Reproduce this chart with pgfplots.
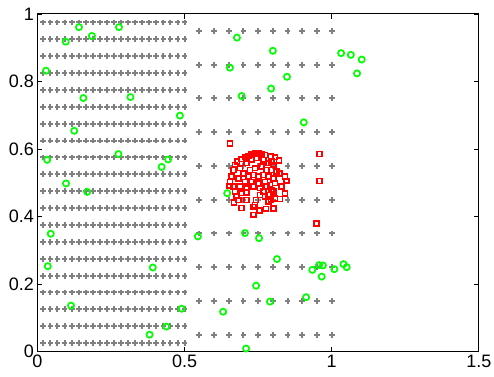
\documentclass[border=0pt]{standalone}
\usepackage{pgfplots}
\pgfplotsset{compat=1.18}
\usepackage{fontspec}
\setmainfont{Liberation Sans}
\definecolor{gridgray}{RGB}{128,128,128}
\begin{document}
\begin{tikzpicture}
\begin{axis}[
 scale only axis, width=441.5pt, height=337.7pt,
 xmin=0,xmax=1.5,ymin=0,ymax=1,
 xtick={0,0.5,1,1.5}, ytick={0,0.2,0.4,0.6,0.8,1},
 xticklabels={0,0.5,1,1.5}, yticklabels={0,0.2,0.4,0.6,0.8,1},
 tick align=inside, major tick length=5pt,
 axis line style={line width=1pt},
 tick style={line width=0.8pt, black},
 ticklabel style={font=\fontsize{18}{20}\selectfont},
 clip=false,
]
% gray grid (left, dense)
\addplot[only marks, mark=+, mark size=2.9pt, color=gridgray, mark options={line width=2pt}] coordinates {
(0.02,0.975)(0.044,0.975)(0.068,0.975)(0.092,0.975)(0.116,0.975)(0.14,0.975)(0.164,0.975)(0.188,0.975)(0.212,0.975)(0.236,0.975)(0.26,0.975)(0.284,0.975)(0.308,0.975)(0.332,0.975)(0.356,0.975)(0.38,0.975)(0.404,0.975)(0.428,0.975)(0.452,0.975)(0.476,0.975)(0.5,0.975)
(0.02,0.925)(0.044,0.925)(0.068,0.925)(0.092,0.925)(0.116,0.925)(0.14,0.925)(0.164,0.925)(0.188,0.925)(0.212,0.925)(0.236,0.925)(0.26,0.925)(0.284,0.925)(0.308,0.925)(0.332,0.925)(0.356,0.925)(0.38,0.925)(0.404,0.925)(0.428,0.925)(0.452,0.925)(0.476,0.925)(0.5,0.925)
(0.02,0.875)(0.044,0.875)(0.068,0.875)(0.092,0.875)(0.116,0.875)(0.14,0.875)(0.164,0.875)(0.188,0.875)(0.212,0.875)(0.236,0.875)(0.26,0.875)(0.284,0.875)(0.308,0.875)(0.332,0.875)(0.356,0.875)(0.38,0.875)(0.404,0.875)(0.428,0.875)(0.452,0.875)(0.476,0.875)(0.5,0.875)
(0.02,0.825)(0.044,0.825)(0.068,0.825)(0.092,0.825)(0.116,0.825)(0.14,0.825)(0.164,0.825)(0.188,0.825)(0.212,0.825)(0.236,0.825)(0.26,0.825)(0.284,0.825)(0.308,0.825)(0.332,0.825)(0.356,0.825)(0.38,0.825)(0.404,0.825)(0.428,0.825)(0.452,0.825)(0.476,0.825)(0.5,0.825)
(0.02,0.775)(0.044,0.775)(0.068,0.775)(0.092,0.775)(0.116,0.775)(0.14,0.775)(0.164,0.775)(0.188,0.775)(0.212,0.775)(0.236,0.775)(0.26,0.775)(0.284,0.775)(0.308,0.775)(0.332,0.775)(0.356,0.775)(0.38,0.775)(0.404,0.775)(0.428,0.775)(0.452,0.775)(0.476,0.775)(0.5,0.775)
(0.02,0.725)(0.044,0.725)(0.068,0.725)(0.092,0.725)(0.116,0.725)(0.14,0.725)(0.164,0.725)(0.188,0.725)(0.212,0.725)(0.236,0.725)(0.26,0.725)(0.284,0.725)(0.308,0.725)(0.332,0.725)(0.356,0.725)(0.38,0.725)(0.404,0.725)(0.428,0.725)(0.452,0.725)(0.476,0.725)(0.5,0.725)
(0.02,0.675)(0.044,0.675)(0.068,0.675)(0.092,0.675)(0.116,0.675)(0.14,0.675)(0.164,0.675)(0.188,0.675)(0.212,0.675)(0.236,0.675)(0.26,0.675)(0.284,0.675)(0.308,0.675)(0.332,0.675)(0.356,0.675)(0.38,0.675)(0.404,0.675)(0.428,0.675)(0.452,0.675)(0.476,0.675)(0.5,0.675)
(0.02,0.625)(0.044,0.625)(0.068,0.625)(0.092,0.625)(0.116,0.625)(0.14,0.625)(0.164,0.625)(0.188,0.625)(0.212,0.625)(0.236,0.625)(0.26,0.625)(0.284,0.625)(0.308,0.625)(0.332,0.625)(0.356,0.625)(0.38,0.625)(0.404,0.625)(0.428,0.625)(0.452,0.625)(0.476,0.625)(0.5,0.625)
(0.02,0.575)(0.044,0.575)(0.068,0.575)(0.092,0.575)(0.116,0.575)(0.14,0.575)(0.164,0.575)(0.188,0.575)(0.212,0.575)(0.236,0.575)(0.26,0.575)(0.284,0.575)(0.308,0.575)(0.332,0.575)(0.356,0.575)(0.38,0.575)(0.404,0.575)(0.428,0.575)(0.452,0.575)(0.476,0.575)(0.5,0.575)
(0.02,0.525)(0.044,0.525)(0.068,0.525)(0.092,0.525)(0.116,0.525)(0.14,0.525)(0.164,0.525)(0.188,0.525)(0.212,0.525)(0.236,0.525)(0.26,0.525)(0.284,0.525)(0.308,0.525)(0.332,0.525)(0.356,0.525)(0.38,0.525)(0.404,0.525)(0.428,0.525)(0.452,0.525)(0.476,0.525)(0.5,0.525)
(0.02,0.475)(0.044,0.475)(0.068,0.475)(0.092,0.475)(0.116,0.475)(0.14,0.475)(0.164,0.475)(0.188,0.475)(0.212,0.475)(0.236,0.475)(0.26,0.475)(0.284,0.475)(0.308,0.475)(0.332,0.475)(0.356,0.475)(0.38,0.475)(0.404,0.475)(0.428,0.475)(0.452,0.475)(0.476,0.475)(0.5,0.475)
(0.02,0.425)(0.044,0.425)(0.068,0.425)(0.092,0.425)(0.116,0.425)(0.14,0.425)(0.164,0.425)(0.188,0.425)(0.212,0.425)(0.236,0.425)(0.26,0.425)(0.284,0.425)(0.308,0.425)(0.332,0.425)(0.356,0.425)(0.38,0.425)(0.404,0.425)(0.428,0.425)(0.452,0.425)(0.476,0.425)(0.5,0.425)
(0.02,0.375)(0.044,0.375)(0.068,0.375)(0.092,0.375)(0.116,0.375)(0.14,0.375)(0.164,0.375)(0.188,0.375)(0.212,0.375)(0.236,0.375)(0.26,0.375)(0.284,0.375)(0.308,0.375)(0.332,0.375)(0.356,0.375)(0.38,0.375)(0.404,0.375)(0.428,0.375)(0.452,0.375)(0.476,0.375)(0.5,0.375)
(0.02,0.325)(0.044,0.325)(0.068,0.325)(0.092,0.325)(0.116,0.325)(0.14,0.325)(0.164,0.325)(0.188,0.325)(0.212,0.325)(0.236,0.325)(0.26,0.325)(0.284,0.325)(0.308,0.325)(0.332,0.325)(0.356,0.325)(0.38,0.325)(0.404,0.325)(0.428,0.325)(0.452,0.325)(0.476,0.325)(0.5,0.325)
(0.02,0.275)(0.044,0.275)(0.068,0.275)(0.092,0.275)(0.116,0.275)(0.14,0.275)(0.164,0.275)(0.188,0.275)(0.212,0.275)(0.236,0.275)(0.26,0.275)(0.284,0.275)(0.308,0.275)(0.332,0.275)(0.356,0.275)(0.38,0.275)(0.404,0.275)(0.428,0.275)(0.452,0.275)(0.476,0.275)(0.5,0.275)
(0.02,0.225)(0.044,0.225)(0.068,0.225)(0.092,0.225)(0.116,0.225)(0.14,0.225)(0.164,0.225)(0.188,0.225)(0.212,0.225)(0.236,0.225)(0.26,0.225)(0.284,0.225)(0.308,0.225)(0.332,0.225)(0.356,0.225)(0.38,0.225)(0.404,0.225)(0.428,0.225)(0.452,0.225)(0.476,0.225)(0.5,0.225)
(0.02,0.175)(0.044,0.175)(0.068,0.175)(0.092,0.175)(0.116,0.175)(0.14,0.175)(0.164,0.175)(0.188,0.175)(0.212,0.175)(0.236,0.175)(0.26,0.175)(0.284,0.175)(0.308,0.175)(0.332,0.175)(0.356,0.175)(0.38,0.175)(0.404,0.175)(0.428,0.175)(0.452,0.175)(0.476,0.175)(0.5,0.175)
(0.02,0.125)(0.044,0.125)(0.068,0.125)(0.092,0.125)(0.116,0.125)(0.14,0.125)(0.164,0.125)(0.188,0.125)(0.212,0.125)(0.236,0.125)(0.26,0.125)(0.284,0.125)(0.308,0.125)(0.332,0.125)(0.356,0.125)(0.38,0.125)(0.404,0.125)(0.428,0.125)(0.452,0.125)(0.476,0.125)(0.5,0.125)
(0.02,0.075)(0.044,0.075)(0.068,0.075)(0.092,0.075)(0.116,0.075)(0.14,0.075)(0.164,0.075)(0.188,0.075)(0.212,0.075)(0.236,0.075)(0.26,0.075)(0.284,0.075)(0.308,0.075)(0.332,0.075)(0.356,0.075)(0.38,0.075)(0.404,0.075)(0.428,0.075)(0.452,0.075)(0.476,0.075)(0.5,0.075)
(0.02,0.025)(0.044,0.025)(0.068,0.025)(0.092,0.025)(0.116,0.025)(0.14,0.025)(0.164,0.025)(0.188,0.025)(0.212,0.025)(0.236,0.025)(0.26,0.025)(0.284,0.025)(0.308,0.025)(0.332,0.025)(0.356,0.025)(0.38,0.025)(0.404,0.025)(0.428,0.025)(0.452,0.025)(0.476,0.025)(0.5,0.025)
};
% gray grid (right, sparse)
\addplot[only marks, mark=+, mark size=2.9pt, color=gridgray, mark options={line width=2pt}] coordinates {
(0.55,0.95)(0.6,0.95)(0.65,0.95)(0.7,0.95)(0.75,0.95)(0.8,0.95)(0.85,0.95)(0.9,0.95)(0.95,0.95)(1,0.95)
(0.55,0.85)(0.6,0.85)(0.65,0.85)(0.7,0.85)(0.75,0.85)(0.8,0.85)(0.85,0.85)(0.9,0.85)(0.95,0.85)(1,0.85)
(0.55,0.75)(0.6,0.75)(0.65,0.75)(0.7,0.75)(0.75,0.75)(0.8,0.75)(0.85,0.75)(0.9,0.75)(0.95,0.75)(1,0.75)
(0.55,0.65)(0.6,0.65)(0.65,0.65)(0.7,0.65)(0.75,0.65)(0.8,0.65)(0.85,0.65)(0.9,0.65)(0.95,0.65)(1,0.65)
(0.55,0.55)(0.6,0.55)(0.65,0.55)(0.7,0.55)(0.75,0.55)(0.8,0.55)(0.85,0.55)(0.9,0.55)(0.95,0.55)(1,0.55)
(0.55,0.45)(0.6,0.45)(0.65,0.45)(0.7,0.45)(0.75,0.45)(0.8,0.45)(0.85,0.45)(0.9,0.45)(0.95,0.45)(1,0.45)
(0.55,0.35)(0.6,0.35)(0.65,0.35)(0.7,0.35)(0.75,0.35)(0.8,0.35)(0.85,0.35)(0.9,0.35)(0.95,0.35)(1,0.35)
(0.55,0.25)(0.6,0.25)(0.65,0.25)(0.7,0.25)(0.75,0.25)(0.8,0.25)(0.85,0.25)(0.9,0.25)(0.95,0.25)(1,0.25)
(0.55,0.15)(0.6,0.15)(0.65,0.15)(0.7,0.15)(0.75,0.15)(0.8,0.15)(0.85,0.15)(0.9,0.15)(0.95,0.15)(1,0.15)
(0.55,0.05)(0.6,0.05)(0.65,0.05)(0.7,0.05)(0.75,0.05)(0.8,0.05)(0.85,0.05)(0.9,0.05)(0.95,0.05)(1,0.05)
};
% red squares
\addplot[only marks, mark=square, mark size=2.4pt, color=red, mark options={line width=1.6pt}] coordinates {
(0.654,0.616)(0.958,0.585)(0.958,0.505)(0.949,0.379)
(0.694,0.570)(0.705,0.576)(0.717,0.580)(0.728,0.584)(0.739,0.587)(0.751,0.587)(0.762,0.585)(0.773,0.582)(0.793,0.579)(0.807,0.576)(0.821,0.566)
(0.679,0.563)(0.671,0.553)(0.666,0.538)(0.660,0.518)(0.654,0.503)(0.652,0.491)(0.666,0.489)(0.671,0.474)(0.677,0.461)(0.683,0.449)(0.668,0.441)
(0.693,0.425)(0.711,0.449)(0.734,0.429)(0.734,0.405)(0.743,0.449)(0.754,0.418)(0.777,0.423)(0.802,0.424)(0.793,0.451)(0.807,0.453)(0.824,0.452)
(0.841,0.468)(0.830,0.489)(0.847,0.506)(0.841,0.518)(0.822,0.528)(0.813,0.533)(0.802,0.553)(0.796,0.563)
(0.711,0.558)(0.728,0.568)(0.745,0.573)(0.768,0.568)(0.785,0.558)(0.722,0.538)(0.739,0.543)(0.762,0.548)(0.779,0.538)(0.796,0.538)
(0.717,0.518)(0.734,0.523)(0.751,0.518)(0.768,0.523)(0.785,0.518)(0.802,0.513)(0.705,0.503)(0.728,0.503)(0.751,0.499)(0.773,0.503)
(0.790,0.494)(0.807,0.499)(0.711,0.484)(0.734,0.489)(0.756,0.484)(0.779,0.489)(0.796,0.479)(0.688,0.489)(0.694,0.469)(0.711,0.471)
(0.768,0.474)(0.785,0.464)(0.802,0.474)(0.773,0.459)(0.756,0.464)(0.739,0.434)(0.785,0.444)(0.700,0.528)(0.688,0.543)(0.683,0.513)
};
% green circles
\addplot[only marks, mark=o, mark size=3.1pt, color=green, mark options={line width=1.7pt}] coordinates {
(0.141,0.961)(0.277,0.961)(0.185,0.935)(0.096,0.918)(0.029,0.832)(0.156,0.751)(0.316,0.754)(0.484,0.699)
(0.125,0.654)(0.275,0.585)(0.033,0.568)(0.444,0.569)(0.422,0.547)(0.097,0.498)(0.169,0.473)(0.045,0.349)
(0.545,0.341)(0.035,0.253)(0.392,0.249)(0.114,0.136)(0.490,0.127)(0.438,0.074)(0.381,0.050)
(0.678,0.930)(0.800,0.891)(0.654,0.841)(0.848,0.814)(0.794,0.779)(0.694,0.757)
(1.032,0.884)(1.065,0.879)(1.102,0.865)(1.086,0.824)(0.905,0.679)
(0.645,0.469)(0.705,0.351)(0.753,0.336)(0.814,0.274)(0.957,0.256)(0.970,0.255)(0.934,0.242)(0.966,0.222)
(1.009,0.244)(1.040,0.259)(1.051,0.250)(0.743,0.195)(0.790,0.148)(0.913,0.161)(0.631,0.118)(0.709,0.009)
};
\end{axis}
\pgfresetboundingbox
\path[use as bounding box] ([shift={(-37.5pt,-25.3pt)}]current axis.south west) rectangle ([shift={(15.2pt,14pt)}]current axis.north east);
\end{tikzpicture}
\end{document}
